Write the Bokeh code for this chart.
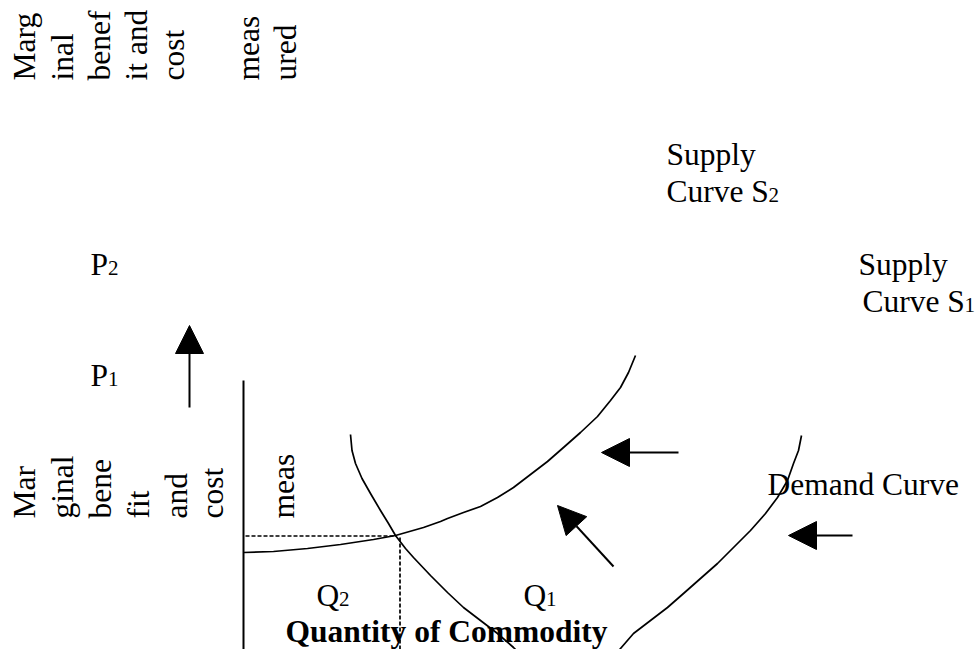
import math
from bokeh.plotting import figure
from bokeh.models import Range1d, Arrow, NormalHead, ColumnDataSource
from bokeh.core.properties import value
from bokeh.embed import file_html
from bokeh.resources import INLINE

# ---- diagram data (in pixel units of the drawing) ----
supply_x = [243, 273, 307, 340, 373, 395, 423, 440, 447, 463, 480, 497, 513, 530, 547, 563, 580, 597, 610, 620, 628, 635]
supply_y = [552, 551, 548, 544, 539, 535, 527, 521, 518, 512, 506, 497, 487, 474, 461, 447, 432, 416, 400, 387, 372, 355]

demand1_x = [350, 351.5, 355, 361.5, 370, 380, 388, 395, 405, 413, 430, 447, 463, 480, 497, 513, 516]
demand1_y = [434, 450, 463, 478, 493, 510, 523, 535, 548, 557, 575, 592, 607, 620, 633, 647, 650]

demand2_x = [801, 798, 793, 787, 777, 765, 750, 733, 717, 700, 683, 667, 650, 633, 620, 617]
demand2_y = [435, 450, 463, 480, 497, 513, 530, 547, 563, 578, 593, 607, 620, 633, 648, 651]

axis_x = [243, 243]
axis_y = [380, 649]

guide_h_x = [245, 396]
guide_h_y = [535.5, 535.5]
guide_v_x = [399.5, 399.5]
guide_v_y = [537, 649]

arrow_x0 = [189, 678, 613, 852]
arrow_y0 = [407, 452, 566, 535]
arrow_x1 = [189, 601, 557, 788]
arrow_y1 = [325, 452, 505, 535]

main_labels = ["Supply", "Curve S", "Supply", "Curve S", "P", "P", "Q", "Q", "Demand Curve"]
main_x = [666, 666, 858, 862, 90, 90, 316, 523, 767]
main_y = [163, 200, 273, 310, 273, 384, 604, 604, 493]

sub_labels = ["2", "1", "2", "1", "2", "1"]
sub_x = [768, 964, 107.5, 107.5, 338.5, 545.5]
sub_y = [203, 313, 276, 387, 607, 607]

title_label = ["Quantity of Commodity"]
title_x = [285]
title_y = [640]

top_words = ["Marg", "inal", "benef", "it and", "cost", "meas", "ured"]
top_x = [33, 70.5, 107.5, 145, 182, 256.5, 293.5]
top_y = [80] * 7

bottom_words = ["Mar", "ginal", "bene", "fit", "and", "cost", "meas"]
bottom_x = [33, 71, 109, 147, 184.5, 221, 292]
bottom_y = [518] * 7

FONT = "Liberation Serif"
BIG, SMALL = 31.5, 21.0
# renderer places the alphabetic baseline a few px too low; compensate
OFF = 9.0

p = figure(width=977, height=649, x_range=Range1d(0, 977), y_range=Range1d(649, 0),
           x_axis_type=None, y_axis_type=None, min_border=0,
           outline_line_color=None, toolbar_location=None, output_backend="svg",
           background_fill_color="white", border_fill_color="white")
p.grid.visible = False

# curves
for cx, cy in ((supply_x, supply_y), (demand1_x, demand1_y), (demand2_x, demand2_y)):
    p.line(cx, cy, line_color="black", line_width=1.7, line_join="round")

# vertical axis line
p.line(axis_x, axis_y, line_color="black", line_width=2)

# dotted guides
p.line(guide_h_x, guide_h_y, line_color="black", line_width=1.7, line_dash="4 2")
p.line(guide_v_x, guide_v_y, line_color="black", line_width=1.7, line_dash="4 2")

# arrows
arrow_src = ColumnDataSource(dict(x0=arrow_x0, y0=arrow_y0, x1=arrow_x1, y1=arrow_y1))
p.add_layout(Arrow(source=arrow_src, x_start="x0", y_start="y0", x_end="x1", y_end="y1",
                   line_color="black", line_width=2,
                   end=NormalHead(size=28, fill_color="black", line_color="black", line_width=1)))

common = dict(text_font=value(FONT), text_color="black", text_align="left", text_baseline="alphabetic")

# horizontal labels
p.text(main_x, [y - OFF for y in main_y], text=main_labels, text_font_size=f"{BIG}px", **common)
p.text(sub_x, [y - OFF for y in sub_y], text=sub_labels, text_font_size=f"{SMALL}px", **common)
p.text(title_x, [y - OFF for y in title_y], text=title_label, text_font_size=f"{BIG}px",
       text_font_style="bold", **common)

# rotated (vertical) label fragments
p.text([x - OFF for x in top_x], top_y, text=top_words, angle=math.pi / 2,
       text_font_size=f"{BIG}px", **common)
p.text([x - OFF for x in bottom_x], bottom_y, text=bottom_words, angle=math.pi / 2,
       text_font_size=f"{BIG}px", **common)

open("out.html", "w").write(file_html(p, INLINE))
